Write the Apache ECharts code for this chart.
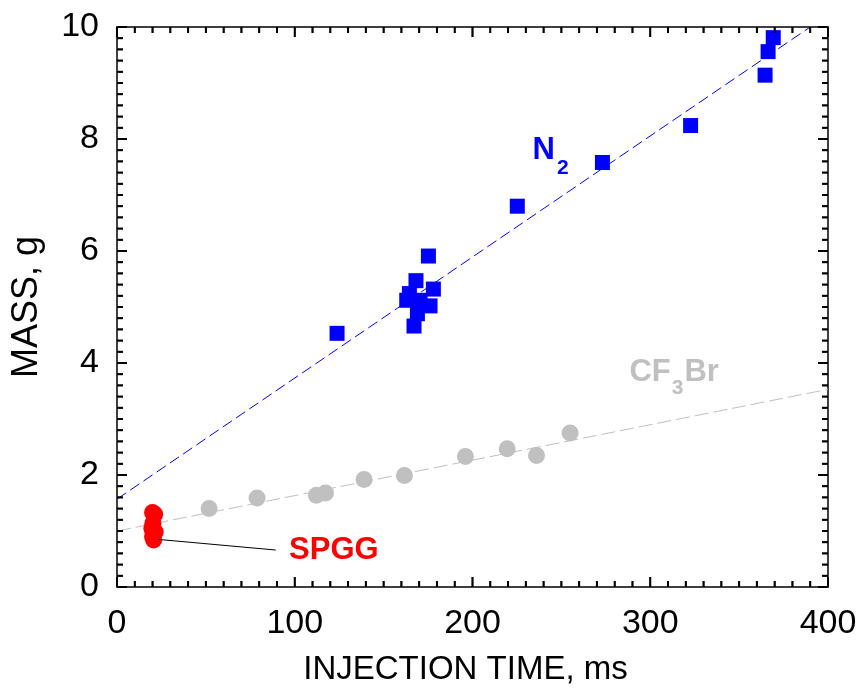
<!DOCTYPE html>
<html>
<head>
<meta charset="utf-8">
<script src="https://cdn.jsdelivr.net/npm/echarts@6/dist/echarts.min.js"></script>
<style>
html,body{margin:0;padding:0;background:#fff;}
#chart{width:861px;height:692px;}
</style>
</head>
<body>
<div id="chart"></div>
<script>
// ---- data ----
const n2X = [123.8, 175.2, 168.2, 178.0, 164.5, 163.0, 170.5, 176.1, 169.0, 167.1, 225.2, 273.1, 322.7, 364.6, 366.3, 369.2];
const n2Y = [4.53, 5.91, 5.47, 5.32, 5.24, 5.12, 5.12, 5.02, 4.88, 4.66, 6.80, 7.58, 8.24, 9.14, 9.56, 9.81];

const cf3brX = [51.8, 78.8, 112.2, 117.3, 139.0, 161.7, 196.0, 219.5, 236.0, 254.9];
const cf3brY = [1.40, 1.59, 1.64, 1.68, 1.92, 1.99, 2.33, 2.47, 2.35, 2.75];

const spggX = [20.0, 21.2, 20.2, 19.6, 21.5, 20.0, 20.6];
const spggY = [1.33, 1.30, 1.14, 1.05, 0.98, 0.90, 0.84];

// fitted trend lines (end points)
const n2FitX = [0, 390];
const n2FitY = [1.57, 10.0];
const cf3brFitX = [0, 400];
const cf3brFitY = [1.00, 3.53];

// leader line from SPGG points to its label
const spggLeadX = [23.2, 89.3];
const spggLeadY = [0.85, 0.66];

// label anchors (left edge, middle)
const labelN2 = [233.5, 7.80];
const labelCF3Br = [288.0, 3.83];
const labelSPGG = [96.5, 0.66];

// axis ranges and tick labels
const xMin = 0, xMax = 400, xStep = 100, xMinorSplit = 10;
const yMin = 0, yMax = 10, yStep = 2, yMinorSplit = 10;
const xTickLabels = ['0', '100', '200', '300', '400'];
const yTickLabels = ['0', '2', '4', '6', '8', '10'];
const xName = 'INJECTION TIME, ms';
const yName = 'MASS, g';

const FONT = '"Liberation Sans", Arial, Helvetica, sans-serif';
const zip = (a, b) => a.map((v, i) => [v, b[i]]);

const MAJOR_LEN = 10, MINOR_LEN = 6, TICK_W = 2;

// tick values on each side: [value, side(0 bottom,1 top,2 left,3 right), length]
const tickList = [];
(function () {
  const nx = Math.round((xMax - xMin) / (xStep / xMinorSplit));
  for (let i = 0; i <= nx; i++) {
    const v = xMin + i * xStep / xMinorSplit;
    const len = i % xMinorSplit === 0 ? MAJOR_LEN : MINOR_LEN;
    tickList.push([v, 0, len], [v, 1, len]);
  }
  const ny = Math.round((yMax - yMin) / (yStep / yMinorSplit));
  for (let i = 0; i <= ny; i++) {
    const v = yMin + i * yStep / yMinorSplit;
    const len = i % yMinorSplit === 0 ? MAJOR_LEN : MINOR_LEN;
    tickList.push([v, 2, len], [v, 3, len]);
  }
})();

const tickPts = tickList.map(([v, side, len]) => {
  if (side === 0) return {value: [v, yMin], symbolSize: [TICK_W, len], symbolOffset: [0, -len / 2]};
  if (side === 1) return {value: [v, yMax], symbolSize: [TICK_W, len], symbolOffset: [0, len / 2]};
  if (side === 2) return {value: [xMin, v], symbolSize: [len, TICK_W], symbolOffset: [len / 2, 0]};
  return {value: [xMax, v], symbolSize: [len, TICK_W], symbolOffset: [-len / 2, 0]};
});

function makeAxis(extra) {
  return Object.assign({
    type: 'value',
    axisLine: {show: true, onZero: false, lineStyle: {color: '#000', width: 1.5}},
    axisTick: {show: false},
    minorTick: {show: false},
    splitLine: {show: false},
    minorSplitLine: {show: false}
  }, extra);
}

function labelSeries(pos, formatter, rich) {
  return {
    type: 'scatter', xAxisIndex: 0, yAxisIndex: 0,
    data: [pos], symbolSize: 1, itemStyle: {color: 'rgba(0,0,0,0)'}, silent: true, z: 10,
    label: {show: true, position: 'right', distance: 0, formatter: formatter, rich: rich,
            opacity: 1, textBorderWidth: 0, textShadowBlur: 0}
  };
}

const chart = echarts.init(document.getElementById('chart'), null, {renderer: 'canvas'});
chart.setOption({
  animation: false,
  backgroundColor: '#fff',
  grid: {left: 117, top: 27, right: 33, bottom: 105, containLabel: false},
  xAxis: [
    makeAxis({
      position: 'bottom', min: xMin, max: xMax, interval: xStep,
      axisLabel: {show: true, fontSize: 34, color: '#000', fontFamily: FONT, margin: 20,
                  formatter: (v) => xTickLabels[Math.round((v - xMin) / xStep)]},
      name: xName, nameLocation: 'middle', nameGap: 66,
      nameTextStyle: {fontSize: 33, color: '#000', fontFamily: FONT, padding: [0, 14, 0, 0]}
    }),
    makeAxis({position: 'top', min: xMin, max: xMax, interval: xStep, axisLabel: {show: false}})
  ],
  yAxis: [
    makeAxis({
      position: 'left', min: yMin, max: yMax, interval: yStep,
      axisLabel: {show: true, fontSize: 34, color: '#000', fontFamily: FONT, margin: 18,
                  formatter: (v) => yTickLabels[Math.round((v - yMin) / yStep)]},
      name: yName, nameLocation: 'middle', nameGap: 72,
      nameTextStyle: {fontSize: 36, color: '#000', fontFamily: FONT}
    }),
    makeAxis({position: 'right', min: yMin, max: yMax, interval: yStep, axisLabel: {show: false}})
  ],
  series: [
    {
      name: 'ticks', type: 'scatter', xAxisIndex: 0, yAxisIndex: 0,
      silent: true, z: 20, clip: false, symbol: 'rect',
      data: tickPts,
      itemStyle: {color: '#000', opacity: 1}
    },
    {
      name: 'N2 fit', type: 'line', xAxisIndex: 0, yAxisIndex: 0,
      data: zip(n2FitX, n2FitY), showSymbol: false, symbol: 'none', clip: true,
      lineStyle: {color: '#0000ff', width: 1, type: [11, 5]}, z: 2
    },
    {
      name: 'CF3Br fit', type: 'line', xAxisIndex: 0, yAxisIndex: 0,
      data: zip(cf3brFitX, cf3brFitY), showSymbol: false, symbol: 'none', clip: true,
      lineStyle: {color: '#c0c0c0', width: 1, type: [14, 5]}, z: 2
    },
    {
      name: 'CF3Br', type: 'scatter', xAxisIndex: 0, yAxisIndex: 0,
      data: zip(cf3brX, cf3brY), symbol: 'circle', symbolSize: 17,
      itemStyle: {color: '#c0c0c0', opacity: 1}, z: 3
    },
    {
      name: 'N2', type: 'scatter', xAxisIndex: 0, yAxisIndex: 0,
      data: zip(n2X, n2Y), symbol: 'rect', symbolSize: 15,
      itemStyle: {color: '#0000ff', opacity: 1}, z: 4
    },
    {
      name: 'SPGG', type: 'scatter', xAxisIndex: 0, yAxisIndex: 0,
      data: zip(spggX, spggY), symbol: 'circle', symbolSize: 17,
      itemStyle: {color: '#ff0000', opacity: 1}, z: 5
    },
    {
      name: 'SPGG lead', type: 'line', xAxisIndex: 0, yAxisIndex: 0,
      data: zip(spggLeadX, spggLeadY), showSymbol: false, symbol: 'none',
      lineStyle: {color: '#000', width: 1}, z: 6
    },
    labelSeries(labelN2, '{m|N}{s|2}', {
      m: {fontSize: 31, fontWeight: 'bold', color: '#0000ff', fontFamily: FONT, verticalAlign: 'middle'},
      s: {fontSize: 21, fontWeight: 'bold', color: '#0000ff', fontFamily: FONT, verticalAlign: 'middle', padding: [36, 0, 0, 2]}
    }),
    labelSeries(labelCF3Br, '{m|CF}{s|3}{m|Br}', {
      m: {fontSize: 31, fontWeight: 'bold', color: '#c0c0c0', fontFamily: FONT, verticalAlign: 'middle'},
      s: {fontSize: 21, fontWeight: 'bold', color: '#c0c0c0', fontFamily: FONT, verticalAlign: 'middle', padding: [32, 1, 0, 1]}
    }),
    labelSeries(labelSPGG, '{m|SPGG}', {
      m: {fontSize: 31, fontWeight: 'bold', color: '#ff0000', fontFamily: FONT, verticalAlign: 'middle'}
    })
  ]
});

// second pass: tick marks as graphic lines, positioned through the axis scales
try {
  const finder = {xAxisIndex: 0, yAxisIndex: 0};
  const els = tickList.map(([v, side, len]) => {
    let p, q;
    if (side === 0) { p = chart.convertToPixel(finder, [v, yMin]); q = [p[0], p[1] - len]; }
    else if (side === 1) { p = chart.convertToPixel(finder, [v, yMax]); q = [p[0], p[1] + len]; }
    else if (side === 2) { p = chart.convertToPixel(finder, [xMin, v]); q = [p[0] + len, p[1]]; }
    else { p = chart.convertToPixel(finder, [xMax, v]); q = [p[0] - len, p[1]]; }
    return {
      type: 'line', silent: true, z: 30,
      shape: {x1: p[0], y1: p[1], x2: q[0], y2: q[1]},
      style: {stroke: '#000', lineWidth: 1.5}
    };
  });
  chart.setOption({graphic: {elements: els}});
} catch (e) { /* keep chart as is */ }
</script>
</body>
</html>
